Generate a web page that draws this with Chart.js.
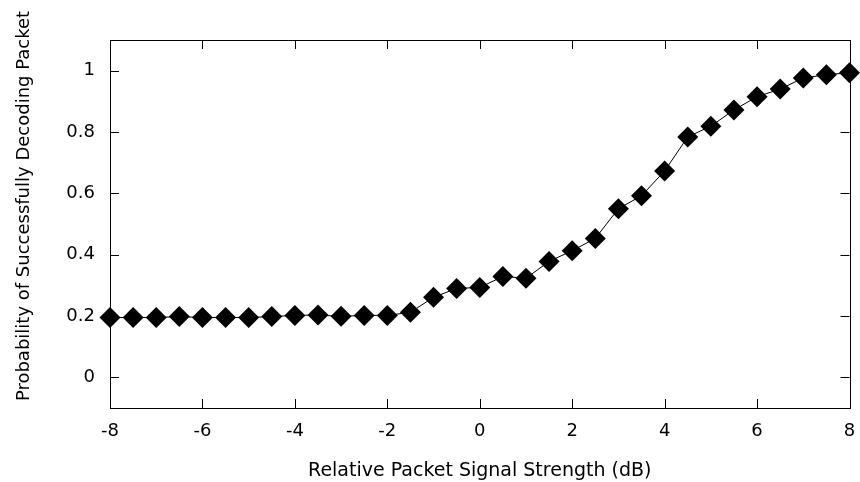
<!DOCTYPE html>
<html>
<head>
<meta charset="utf-8">
<script src="https://cdn.jsdelivr.net/npm/chart.js@4"></script>
<style>
  html, body { margin: 0; padding: 0; background: #fff; }
  #wrap { width: 860px; height: 482px; }
</style>
</head>
<body>
<div id="wrap"><canvas id="chart" width="860" height="482"></canvas></div>
<script>
// signal strength (dB) and decoding probability
const strengthDb = [-8, -7.5, -7, -6.5, -6, -5.5, -5, -4.5, -4, -3.5, -3, -2.5, -2, -1.5, -1, -0.5,
    0, 0.5, 1, 1.5, 2, 2.5, 3, 3.5, 4, 4.5, 5, 5.5, 6, 6.5, 7, 7.5, 8];
const probability = [0.195, 0.195, 0.195, 0.198, 0.195, 0.195, 0.195, 0.198, 0.202, 0.203, 0.199, 0.202, 0.202, 0.212, 0.261, 0.29,
    0.293, 0.329, 0.323, 0.378, 0.413, 0.453, 0.55, 0.592, 0.673, 0.784, 0.819, 0.872, 0.915, 0.94, 0.976, 0.987, 0.993];
const xTicks = [-8, -6, -4, -2, 0, 2, 4, 6, 8];
const yTicks = [0, 0.2, 0.4, 0.6, 0.8, 1];
const yTitle = 'Probability of Successfully Decoding Packet';

const FONT = 'DejaVu Sans';

// frame + inward ticks on all four sides, like gnuplot's mirrored border
const borderTicks = {
    id: 'borderTicks',
    afterDatasetsDraw(chart) {
        const { ctx, chartArea: a, scales } = chart;
        const len = 9;
        ctx.save();
        ctx.strokeStyle = '#000';
        ctx.lineWidth = 1;
        ctx.beginPath();
        xTicks.forEach(v => {
            const px = Math.round(scales.x.getPixelForValue(v)) + 0.5;
            ctx.moveTo(px, a.bottom); ctx.lineTo(px, a.bottom - len);
            ctx.moveTo(px, a.top); ctx.lineTo(px, a.top + len);
        });
        yTicks.forEach(v => {
            const py = Math.round(scales.y.getPixelForValue(v)) + 0.5;
            ctx.moveTo(a.left, py); ctx.lineTo(a.left + len, py);
            ctx.moveTo(a.right, py); ctx.lineTo(a.right - len, py);
        });
        ctx.stroke();
        ctx.strokeRect(Math.round(a.left) + 0.5, Math.round(a.top) + 0.5,
            Math.round(a.right - a.left), Math.round(a.bottom - a.top));

        // y title sits a bit above the plot centre in the original
        ctx.translate(24, 206);
        ctx.rotate(-Math.PI / 2);
        ctx.fillStyle = '#000';
        ctx.font = '18px "' + FONT + '"';
        ctx.textAlign = 'center';
        ctx.textBaseline = 'middle';
        ctx.fillText(yTitle, 0, 0);
        ctx.restore();
    }
};

new Chart(document.getElementById('chart').getContext('2d'), {
    type: 'line',
    data: {
        datasets: [{
            data: strengthDb.map((x, i) => ({ x: x, y: probability[i] })),
            borderColor: '#000',
            borderWidth: 1,
            backgroundColor: '#000',
            pointStyle: 'rectRot',
            pointRadius: 10.5,
            pointBorderWidth: 0,
            tension: 0,
            clip: false
        }]
    },
    options: {
        responsive: false,
        animation: false,
        layout: { padding: { left: 0, top: 40, right: 10, bottom: 0 } },
        plugins: { legend: { display: false }, tooltip: { enabled: false } },
        scales: {
            x: {
                type: 'linear',
                min: -8,
                max: 8,
                afterBuildTicks: s => { s.ticks = xTicks.map(v => ({ value: v })); },
                afterFit: s => { s.height = 74; s.paddingLeft = 0; s.paddingRight = 0; },
                grid: { display: false, drawTicks: false },
                border: { display: false },
                ticks: { color: '#000', padding: 13, font: { family: FONT, size: 18 }, maxRotation: 0 },
                title: {
                    display: true,
                    text: 'Relative Packet Signal Strength (dB)',
                    color: '#000',
                    font: { family: FONT, size: 19 },
                    padding: { top: 0, bottom: 0 }
                }
            },
            y: {
                min: -0.1,
                max: 1.1,
                afterBuildTicks: s => { s.ticks = yTicks.map(v => ({ value: v })); },
                afterFit: s => { s.width = 110; },
                grid: { display: false, drawTicks: false },
                border: { display: false },
                ticks: {
                    color: '#000',
                    padding: 15,
                    font: { family: FONT, size: 18 },
                    callback: v => String(v)
                },
                title: { display: false }
            }
        }
    },
    plugins: [borderTicks]
});
</script>
</body>
</html>
